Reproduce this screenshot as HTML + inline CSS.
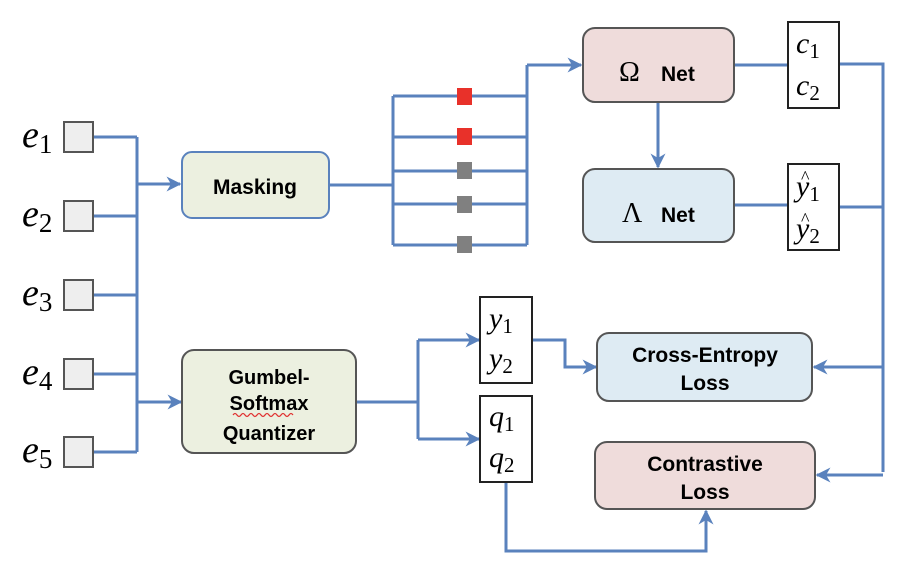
<!DOCTYPE html>
<html><head><meta charset="utf-8"><style>
html,body{margin:0;padding:0;background:#fff;}
svg{display:block;}
.m{font-family:"Liberation Serif",serif;font-style:italic;}
.s{font-family:"Liberation Serif",serif;font-style:normal;}
.b{font-family:"Liberation Sans",sans-serif;font-weight:bold;fill:#000;}
</style></head><body>
<svg width="900" height="578" viewBox="0 0 900 578" xmlns="http://www.w3.org/2000/svg">
<defs>
<marker id="a" viewBox="0 0 10 10" refX="9" refY="5" markerWidth="5" markerHeight="5" orient="auto" markerUnits="strokeWidth">
<path d="M0,0 L10,5 L0,10 L3,5 z" fill="#5a82bd"/></marker>
</defs>
<g fill="none" stroke="#5a82bd" stroke-width="3">
<path d="M93,137H137M93,216H137M93,295H137M93,374H137M93,452H137M137,137V452"/>
<path d="M137,184H180" marker-end="url(#a)"/>
<path d="M137,402H181" marker-end="url(#a)"/>
<path d="M329,185H393M393,96V245M393,96H527M393,137H527M393,171H527M393,204H527M393,245H527M527,65V245"/>
<path d="M527,65H581" marker-end="url(#a)"/>
<path d="M658,102V167" marker-end="url(#a)"/>
<path d="M734,65H788M734,205H788M839,64H883V472M839,207H883"/>
<path d="M883,367H814" marker-end="url(#a)"/>
<path d="M883,475H817" marker-end="url(#a)"/>
<path d="M356,402H418M418,340V439"/>
<path d="M418,340H479" marker-end="url(#a)"/>
<path d="M418,439H479" marker-end="url(#a)"/>
<path d="M532,340H565V367H596" marker-end="url(#a)"/>
<path d="M506,482V551H706V511" marker-end="url(#a)"/>
</g>
<rect x="457" y="88" width="15" height="17" fill="#e8312a"/>
<rect x="457" y="128" width="15" height="17" fill="#e8312a"/>
<rect x="457" y="162" width="15" height="17" fill="#808080"/>
<rect x="457" y="196" width="15" height="17" fill="#808080"/>
<rect x="457" y="236" width="15" height="17" fill="#808080"/>
<g fill="#eeeeee" stroke="#555" stroke-width="2">
<rect x="64" y="122" width="29" height="30"/>
<rect x="64" y="201" width="29" height="30"/>
<rect x="64" y="280" width="29" height="30"/>
<rect x="64" y="359" width="29" height="30"/>
<rect x="64" y="437" width="29" height="30"/>
</g>
<g font-size="38">
<text x="22" y="147" class="m">e<tspan class="s" font-size="27" dy="6">1</tspan></text>
<text x="22" y="226" class="m">e<tspan class="s" font-size="27" dy="6">2</tspan></text>
<text x="22" y="305" class="m">e<tspan class="s" font-size="27" dy="6">3</tspan></text>
<text x="22" y="384" class="m">e<tspan class="s" font-size="27" dy="6">4</tspan></text>
<text x="22" y="462" class="m">e<tspan class="s" font-size="27" dy="6">5</tspan></text>
</g>
<rect x="182" y="152" width="147" height="66" rx="10" fill="#ecf0e0" stroke="#5a82bd" stroke-width="2"/>
<text x="255" y="194" text-anchor="middle" font-size="21" class="b">Masking</text>
<rect x="182" y="350" width="174" height="103" rx="12" fill="#ecf0e0" stroke="#555" stroke-width="2"/>
<text x="269" y="384" text-anchor="middle" font-size="20" class="b">Gumbel-</text>
<text x="269" y="410" text-anchor="middle" font-size="20" class="b">Softmax</text>
<path d="M233,415 q2,-3 4,0 t4,0 t4,0 t4,0 t4,0 t4,0 t4,0 t4,0 t4,0 t4,0 t4,0 t4,0 t4,0 t4,0 t4,0" fill="none" stroke="#e03030" stroke-width="1.2"/>
<text x="269" y="440" text-anchor="middle" font-size="20" class="b">Quantizer</text>
<rect x="583" y="28" width="151" height="74" rx="12" fill="#efdcdb" stroke="#555" stroke-width="2"/>
<text x="619" y="81" font-size="28" class="s">Ω</text>
<text x="661" y="81" font-size="21" class="b">Net</text>
<rect x="583" y="169" width="151" height="73" rx="12" fill="#deebf3" stroke="#555" stroke-width="2"/>
<text x="622" y="222" font-size="28" class="s">Λ</text>
<text x="661" y="222" font-size="21" class="b">Net</text>
<rect x="597" y="333" width="215" height="68" rx="12" fill="#deebf3" stroke="#555" stroke-width="2"/>
<text x="705" y="362" text-anchor="middle" font-size="21" class="b">Cross-Entropy</text>
<text x="705" y="390" text-anchor="middle" font-size="21" class="b">Loss</text>
<rect x="595" y="442" width="220" height="67" rx="12" fill="#efdcdb" stroke="#555" stroke-width="2"/>
<text x="705" y="471" text-anchor="middle" font-size="21" class="b">Contrastive</text>
<text x="705" y="499" text-anchor="middle" font-size="21" class="b">Loss</text>
<g fill="#fff" stroke="#222" stroke-width="2">
<rect x="788" y="22" width="51" height="86"/>
<rect x="788" y="164" width="51" height="86"/>
<rect x="480" y="297" width="52" height="86"/>
<rect x="480" y="396" width="52" height="86"/>
</g>
<g font-size="30">
<text x="796" y="53" class="m">c<tspan class="s" font-size="21" dy="5">1</tspan></text>
<text x="796" y="95" class="m">c<tspan class="s" font-size="21" dy="5">2</tspan></text>
<text x="796" y="196" class="m">y<tspan class="s" font-size="21" dy="5">1</tspan></text>
<text x="801" y="183" class="s" font-size="18">^</text>
<text x="796" y="238" class="m">y<tspan class="s" font-size="21" dy="5">2</tspan></text>
<text x="801" y="225" class="s" font-size="18">^</text>
<text x="489" y="328" class="m">y<tspan class="s" font-size="21" dy="5">1</tspan></text>
<text x="489" y="368" class="m">y<tspan class="s" font-size="21" dy="5">2</tspan></text>
<text x="489" y="426" class="m">q<tspan class="s" font-size="21" dy="5">1</tspan></text>
<text x="489" y="467" class="m">q<tspan class="s" font-size="21" dy="5">2</tspan></text>
</g>
</svg>
</body></html>
